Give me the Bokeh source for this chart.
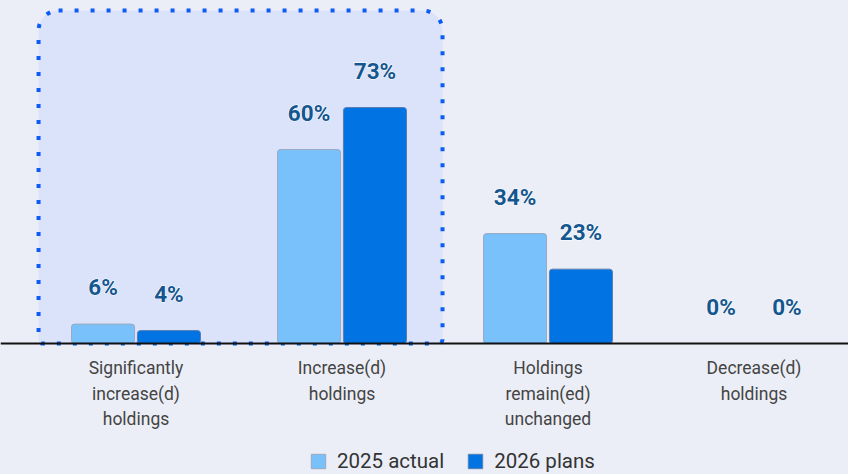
from bokeh.plotting import figure
from bokeh.models import ColumnDataSource, Range1d, Span, BoxAnnotation
from bokeh.transform import dodge
from bokeh.core.properties import value
from bokeh.embed import file_html
from bokeh.resources import INLINE

# ---- data ----
categories = ["Significantly increase(d) holdings", "Increase(d) holdings",
              "Holdings remain(ed) unchanged", "Decrease(d) holdings"]
tick_labels = ["Significantly\nincrease(d)\nholdings", "Increase(d)\nholdings",
               "Holdings\nremain(ed)\nunchanged", "Decrease(d)\nholdings"]
actual_2025 = [6, 60, 34, 0]
plans_2026 = [4, 73, 23, 0]
series_names = ["2025 actual", "2026 plans"]

BG = "#ebeef6"
LIGHT = "#79c1fa"
DARK = "#0273e3"
LABEL_BLUE = "#14568f"

xs = list(range(len(categories)))
src = ColumnDataSource(dict(
    x=xs,
    a=actual_2025,
    b=plans_2026,
    a_txt=[f"{v}%" for v in actual_2025],
    b_txt=[f"{v}%" for v in plans_2026],
))

W, H = 848, 474
px_per_unit = 236 / 73.0
base_y = 343
p = figure(width=W, height=H, output_backend="svg", toolbar_location=None,
           x_range=Range1d(-135.5 / 206, (W - 135.5) / 206),
           y_range=Range1d(-(H - base_y) / px_per_unit, base_y / px_per_unit),
           min_border=0, min_border_left=0, min_border_right=0,
           min_border_top=0, min_border_bottom=0)
p.background_fill_color = BG
p.border_fill_color = BG
p.outline_line_color = None
p.xgrid.visible = False
p.ygrid.visible = False
p.xaxis.visible = False
p.yaxis.visible = False

# highlight box around the first two groups
box = BoxAnnotation(left=-0.473, right=1.488, bottom=0, top=103.0,
                    fill_color="#dbe3fa", fill_alpha=1.0,
                    line_color="#0b5cf6", line_alpha=1.0, line_width=4,
                    line_dash="4 12", border_radius=(20, 20, 4, 4),
                    level="underlay")
p.add_layout(box)

off = 0.16
bw = 0.306
p.vbar(x=dodge("x", -off, range=p.x_range), top="a", width=bw, source=src,
       fill_color=LIGHT, line_color="#9aa9bf", line_width=1, border_radius=3,
       legend_label=series_names[0])
p.vbar(x=dodge("x", off, range=p.x_range), top="b", width=bw, source=src,
       fill_color=DARK, line_color="#5a7fb0", line_width=1, border_radius=3,
       legend_label=series_names[1])

# baseline
p.add_layout(Span(location=0, dimension="width", line_color="#111111", line_width=2))

# value labels: white halo layer, then blue text on top
for col, txt, dx in (("a", "a_txt", -off), ("b", "b_txt", off)):
    p.text(x=dodge("x", dx, range=p.x_range), y=col, text=txt, source=src,
           y_offset=-37, text_align="center", text_baseline="middle",
           text_font=value("Roboto"), text_font_style="bold",
           text_font_size="22.5px", text_color="white",
           text_outline_color="white")
    p.text(x=dodge("x", dx, range=p.x_range), y=col, text=txt, source=src,
           y_offset=-37, text_align="center", text_baseline="middle",
           text_font=value("Roboto"), text_font_style="bold",
           text_font_size="22.5px", text_color=LABEL_BLUE)

# category labels (multi-line, one glyph row per line)
lx, ltxt, loff = [], [], []
for i, lab in enumerate(tick_labels):
    for j, line in enumerate(lab.split("\n")):
        lx.append(xs[i])
        ltxt.append(line)
        loff.append(24.5 + 25.5 * j)
lsrc = ColumnDataSource(dict(x=lx, y=[0] * len(lx), text=ltxt, yo=loff))
p.text(x="x", y="y", text="text", y_offset="yo", source=lsrc,
       text_align="center", text_baseline="alphabetic",
       text_font=value("Roboto"), text_font_size="17.5px", text_color="#444444")

# legend
lg = p.legend[0]
lg.orientation = "horizontal"
lg.location = (309, 1)
lg.padding = 0
lg.margin = 0
lg.spacing = 22
lg.glyph_width = 18
lg.glyph_height = 18
lg.label_standoff = 10
lg.label_text_font = "Roboto"
lg.label_text_font_size = "20.5px"
lg.label_text_color = "#333333"
lg.background_fill_alpha = 0
lg.border_line_alpha = 0

html = file_html(p, INLINE)
html = html.replace("<head>", "<head><style>html,body{background:%s;}</style>" % BG, 1)
open("out.html", "w").write(html)
